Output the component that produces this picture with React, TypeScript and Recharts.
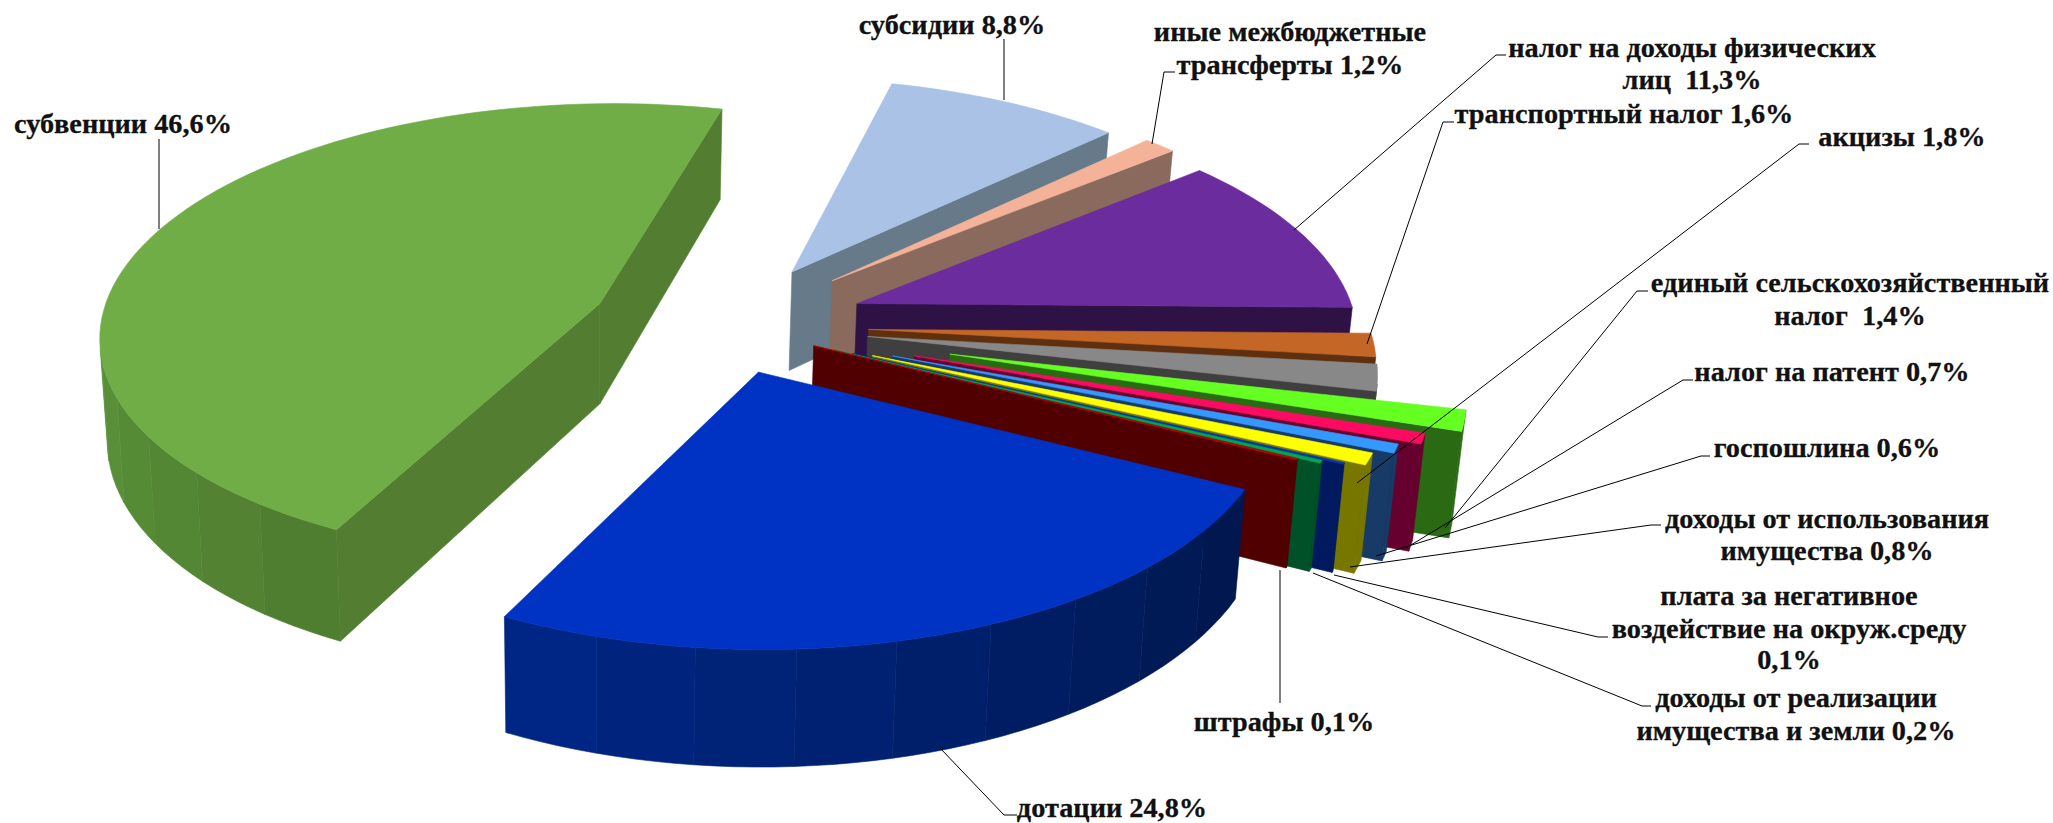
import React from 'react';
import { PieChart, Pie } from 'recharts';

// budget structure, share of revenue in percent
const categories = [
  'субвенции', 'субсидии', 'иные межбюджетные трансферты', 'налог на доходы физических лиц',
  'транспортный налог', 'акцизы', 'единый сельскохозяйственный налог', 'налог на патент',
  'госпошлина', 'доходы от использования имущества', 'плата за негативное воздействие на окруж.среду',
  'доходы от реализации имущества и земли', 'штрафы', 'дотации',
];
const values = [46.6, 8.8, 1.2, 11.3, 1.6, 1.8, 1.4, 0.7, 0.6, 0.8, 0.1, 0.2, 0.1, 24.8];
const labelTexts = [
  ['субвенции 46,6%'],
  ['субсидии 8,8%'],
  ['иные межбюджетные', 'трансферты 1,2%'],
  ['налог на доходы физических', 'лиц  11,3%'],
  ['транспортный налог 1,6%'],
  ['акцизы 1,8%'],
  ['единый сельскохозяйственный', 'налог  1,4%'],
  ['налог на патент 0,7%'],
  ['госпошлина 0,6%'],
  ['доходы от использования', 'имущества 0,8%'],
  ['плата за негативное', 'воздействие на окруж.среду', '0,1%'],
  ['доходы от реализации', 'имущества и земли 0,2%'],
  ['штрафы 0,1%'],
  ['дотации 24,8%'],
];

const topColors = ['#70AD47', '#A9C2E5', '#F4B398', '#6B2C9E', '#C46726', '#888888', '#66FF22', '#FF0A62', '#3399FF', '#FFFF00', '#0033BB', '#00A651', '#C00000', '#0033C4'];
const wallColors = ['#537D30', '#677A8A', '#8A6A5C', '#2E1245', '#5E3010', '#3F3F3F', '#2A6A12', '#66002F', '#173A66', '#777700', '#00195F', '#005028', '#500000', '#001F6B'];
const rimFrom: Record<number, string> = { 0: '#507E30', 13: '#00184F' };
const rimTo: Record<number, string> = { 0: '#74C654', 13: '#00288C' };

// how far each slice is pulled out of the pie, in radii
const explode = [0.27, 0.275, 0.295, 0.283, 0.287, 0.288, 0.46, 0.395, 0.355, 0.318, 0.28, 0.24, 0.197, 0.21];

// label placement: line centres [x, y] and the leader polyline
const labelPos = [
  { x: 123, y: [124], line: [[159, 139], [159, 229]] },
  { x: 952, y: [25], line: [[1004, 39], [1004, 100]] },
  { x: 1290, y: [32, 65], line: [[1175, 72], [1164, 72], [1152, 144]] },
  { x: 1692, y: [48, 80], line: [[1506, 55], [1496, 55], [1294, 230]] },
  { x: 1624, y: [114], line: [[1454, 122], [1443, 122], [1367, 344]] },
  { x: 1902, y: [137], line: [[1809, 144], [1799, 144], [1357, 483]] },
  { x: 1850, y: [283, 316], line: [[1648, 291], [1637, 291], [1445, 528]] },
  { x: 1832, y: [372], line: [[1693, 380], [1683, 380], [1406, 548]] },
  { x: 1827, y: [448], line: [[1710, 456], [1701, 456], [1376, 556]] },
  { x: 1827, y: [519, 551], line: [[1661, 525], [1651, 525], [1350, 567]] },
  { x: 1789, y: [596, 629, 660], line: [[1608, 637], [1598, 637], [1334, 575]] },
  { x: 1796, y: [698, 731], line: [[1651, 706], [1642, 706], [1313, 573]] },
  { x: 1284, y: [722], line: [[1280, 703], [1280, 570]] },
  { x: 1112, y: [808], line: [[1017, 815], [1004, 815], [940, 748]] },
];

const tableData = categories.map((name, i) => ({ name, value: values[i] }));

const RAD = Math.PI / 180;
const TILT = 0.46; // vertical / horizontal radius
const PERSP = 0.125;
const BAND = 5; // arc steps per shaded rim facet

type Pt = [number, number];

function hex(c: string) {
  return [1, 3, 5].map(i => parseInt(c.slice(i, i + 2), 16));
}
function mix(a: string, b: string, t: number) {
  const ca = hex(a);
  const cb = hex(b);
  return `rgb(${ca.map((v, i) => Math.round(v + (cb[i] - v) * t)).join(',')})`;
}

// top face point -> matching point on the bottom face
function drop([x, y]: Pt): Pt {
  return [x + (600 - x) * 0.015, y + 85 + 0.05 * y];
}
function poly(pts: Pt[]) {
  return pts.map(p => `${p[0].toFixed(1)},${p[1].toFixed(1)}`).join(' ');
}
// faces turned away from the viewer are skipped
function faces(p: Pt, q: Pt) {
  const dp = drop(p);
  return (q[1] - p[1]) * (dp[0] - p[0]) - (q[0] - p[0]) * (dp[1] - p[1]) > 0;
}

function Slice3D(props: any) {
  const { cx, cy, outerRadius, startAngle, endAngle, index } = props;
  const mid = (startAngle + endAngle) / 2;
  const e = explode[index];
  const project = (angle: number, r: number): Pt => {
    const u = e * Math.cos(mid * RAD) + r * Math.cos(angle * RAD);
    const v = -e * Math.sin(mid * RAD) - r * Math.sin(angle * RAD);
    const w = 1 - PERSP * v;
    return [cx + (outerRadius * u) / w, cy + (outerRadius * TILT * v) / w];
  };

  const apex = project(mid, 0);
  const steps = Math.max(2, Math.ceil(Math.abs(startAngle - endAngle) / 2));
  const arc: Pt[] = [];
  for (let i = 0; i <= steps; i++) {
    arc.push(project(startAngle + ((endAngle - startAngle) * i) / steps, 1));
  }

  const wall = wallColors[index];
  const top = topColors[index];
  const parts: React.ReactNode[] = [];
  const addWall = (p: Pt, q: Pt, key: string) => {
    if (!faces(p, q)) return;
    parts.push(<polygon key={key} points={poly([p, q, drop(q), drop(p)])} fill={wall} stroke={wall} strokeWidth={0.6} />);
  };
  addWall(apex, arc[0], 'a');
  addWall(arc[steps], apex, 'b');

  for (let b = 0; b < steps; b += BAND) {
    const run: Pt[] = [];
    for (let i = b; i < Math.min(b + BAND, steps); i++) {
      if (faces(arc[i], arc[i + 1])) {
        if (!run.length) run.push(arc[i]);
        run.push(arc[i + 1]);
      }
    }
    if (run.length < 2) continue;
    const color = rimFrom[index] ? mix(rimFrom[index], rimTo[index], b / steps) : wall;
    parts.push(
      <polygon key={`r${b}`} points={poly([...run, ...run.map(drop).reverse()])} fill={color} stroke={color} strokeWidth={0.6} />,
    );
  }

  return (
    <g>
      {parts}
      <polygon points={poly([apex, ...arc])} fill={top} stroke={top} strokeWidth={0.6} />
    </g>
  );
}

function SliceLabel({ index }: any) {
  const pos = labelPos[index];
  return (
    <g>
      <polyline points={poly(pos.line as Pt[])} fill="none" stroke="#000" strokeWidth={1} />
      {labelTexts[index].map((t, i) => (
        <text
          key={i}
          x={pos.x}
          y={pos.y[i] + 9}
          textAnchor="middle"
          fontFamily="Liberation Serif"
          fontWeight="bold"
          fontSize={28.3}
          fill="#111"
          stroke="#111"
          strokeWidth={0.3}
          style={{ whiteSpace: 'pre' }}
        >
          {t}
        </text>
      ))}
    </g>
  );
}

export default function App() {
  return (
    <div style={{ position: 'absolute', left: 0, top: 0, width: 2053, height: 823, background: '#fff' }}>
      <PieChart width={2053} height={823} margin={{ top: 0, right: 0, bottom: 0, left: 0 }}>
        <Pie
          data={tableData}
          dataKey="value"
          nameKey="name"
          cx={725}
          cy={325}
          innerRadius={0}
          outerRadius={500}
          startAngle={-116.5}
          endAngle={-476.5}
          shape={Slice3D}
          label={SliceLabel}
          labelLine={false}
          isAnimationActive={false}
        />
      </PieChart>
    </div>
  );
}
